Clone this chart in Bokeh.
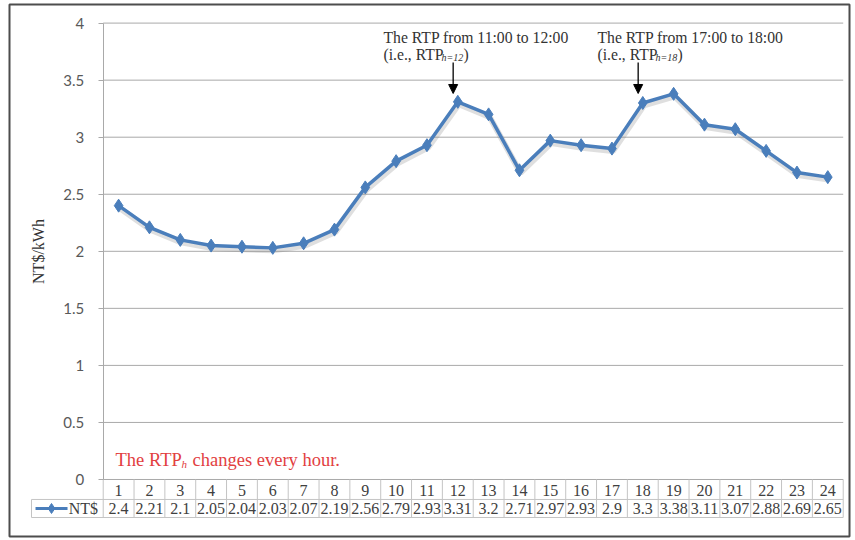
import numpy as np
from bokeh.plotting import figure
from bokeh.models import (Range1d, LinearAxis, FixedTicker, CustomJSTickFormatter,
                          ColumnDataSource, Arrow, NormalHead)
from bokeh.core.properties import value
from bokeh.embed import file_html
from bokeh.resources import INLINE

# Hourly real-time price (NT$/kWh)
hours = list(range(1, 25))
rtp = [2.4, 2.21, 2.1, 2.05, 2.04, 2.03, 2.07, 2.19, 2.56, 2.79, 2.93, 3.31,
       3.2, 2.71, 2.97, 2.93, 2.9, 3.3, 3.38, 3.11, 3.07, 2.88, 2.69, 2.65]
y_ticks = [0, 0.5, 1, 1.5, 2, 2.5, 3, 3.5, 4]
series_name = "NT$"
callout_hours = [12, 18]
callout_titles = ["The RTP from 11:00 to 12:00", "The RTP from 17:00 to 18:00"]
callout_subs = ["h=12", "h=18"]
callout_text_shift = [2.41, 1.47]   # how far left of the arrow each call-out starts

BLUE = "#4a7ebb"
GRID = "#a9a9a9"
TABLE = "#c4c4c4"
INK = "#333333"
SERIF = "Liberation Serif"

# table row layout (below the zero line, in value units)
row1_bottom = -0.175
row2_bottom = -0.333
legend_left = -1.825

p = figure(width=855, height=540,
           x_range=Range1d(-2.539, 24.704), y_range=Range1d(-0.4996, 4.163),
           x_axis_type=None, y_axis_type=None,
           output_backend="svg", toolbar_location=None,
           min_border_left=9, min_border_right=6, min_border_top=4, min_border_bottom=4)
p.outline_line_color = "#4d4d4d"
p.outline_line_width = 2
p.background_fill_color = "white"
p.border_fill_color = "white"

# value axis sitting at the left edge of the category columns
yaxis = LinearAxis(fixed_location=0.5, bounds=(0, 4),
                   ticker=FixedTicker(ticks=y_ticks),
                   formatter=CustomJSTickFormatter(code="return String(tick);"),
                   axis_label="NT$/kWh")
yaxis.axis_line_color = GRID
yaxis.major_tick_line_color = GRID
yaxis.major_tick_out = 5
yaxis.major_tick_in = 0
yaxis.minor_tick_line_color = None
yaxis.major_label_text_font = "Lato"
yaxis.major_label_text_font_size = "15px"
yaxis.major_label_text_color = "#595959"
yaxis.major_label_standoff = 14
yaxis.axis_label_text_font = SERIF
yaxis.axis_label_text_font_style = "normal"
yaxis.axis_label_text_font_size = "16px"
yaxis.axis_label_text_color = INK
yaxis.axis_label_standoff = 14
p.add_layout(yaxis, "left")

# horizontal gridlines
p.segment(x0=0.5, x1=24.5, y0=y_ticks, y1=y_ticks, line_color=GRID, line_width=1)

# data table grid
col_edges = [h - 0.5 for h in hours] + [hours[-1] + 0.5]
p.segment(x0=col_edges, x1=col_edges, y0=0, y1=row2_bottom, line_color=TABLE, line_width=1)
p.segment(x0=[legend_left, legend_left, legend_left],
          x1=[24.5, 24.5, legend_left],
          y0=[row1_bottom, row2_bottom, row1_bottom],
          y1=[row1_bottom, row2_bottom, row2_bottom],
          line_color=TABLE, line_width=1)

table_src = ColumnDataSource(dict(
    x=hours,
    hdr=[str(h) for h in hours],
    val=[f"{v:g}" for v in rtp],
))
p.text(x="x", y=row1_bottom / 2, y_offset=1, text="hdr", source=table_src,
       text_font=value(SERIF), text_font_size="16px", text_color="#404040",
       text_align="center", text_baseline="middle")
p.text(x="x", y=(row1_bottom + row2_bottom) / 2, text="val", source=table_src,
       text_font=value(SERIF), text_font_size="16px", text_color="#404040",
       text_align="center", text_baseline="middle")

# legend key in the table's first cell
row2_mid = (row1_bottom + row2_bottom) / 2
p.line(x=[-1.695, -0.657], y=[row2_mid, row2_mid], line_color=BLUE, line_width=3)
p.scatter(x=[-1.176], y=[row2_mid], marker="diamond", size=10,
          fill_color=BLUE, line_color=BLUE)
p.text(x=[-0.62], y=[row2_mid], text=[series_name], text_font=value(SERIF),
       text_font_size="16px", text_color="#404040", text_align="left",
       text_baseline="middle")

# price series with a soft drop shadow
shadow_y = list(np.array(rtp) - 2.5 / 114.1)
shadow_x = list(np.array(hours) + 1.0 / 30.83)
p.line(x=shadow_x, y=shadow_y, line_color="#808080", line_alpha=0.25, line_width=6)
p.line(x=hours, y=rtp, line_color=BLUE, line_width=3.5)
p.scatter(x=hours, y=rtp, marker="diamond", size=13, fill_color=BLUE, line_color=BLUE)

# call-outs for the two highlighted hours
for h, title, sub, shift in zip(callout_hours, callout_titles, callout_subs, callout_text_shift):
    ax = h - 0.15
    p.add_layout(Arrow(end=NormalHead(size=9, fill_color="black", line_color="black"),
                       x_start=ax, y_start=3.655, x_end=ax, y_end=3.383,
                       line_color="black", line_width=1.3))
    tx = h - shift
    p.text(x=[tx], y=[3.874], text=[title], text_font=value(SERIF),
           text_font_size="15.7px", text_color=INK, text_baseline="alphabetic")
    p.text(x=[tx], y=[3.874], y_offset=17, text=["(i.e., RTP"], text_font=value(SERIF),
           text_font_size="15.7px", text_color=INK, text_baseline="alphabetic")
    p.text(x=[tx], y=[3.874], x_offset=58, y_offset=20, text=[sub], text_font=value(SERIF),
           text_font_size="10px", text_font_style="italic", text_color=INK,
           text_baseline="alphabetic")
    p.text(x=[tx], y=[3.874], x_offset=80, y_offset=17, text=[")"], text_font=value(SERIF),
           text_font_size="15.7px", text_color=INK, text_baseline="alphabetic")

# note in the lower-left corner of the plot
RED = "#e2403f"
p.text(x=[0.9], y=[0.175], text=["The RTP"], text_font=value(SERIF),
       text_font_size="18.5px", text_color=RED, text_baseline="alphabetic")
p.text(x=[0.9], y=[0.175], x_offset=66, y_offset=4, text=["h"], text_font=value(SERIF),
       text_font_size="11px", text_font_style="italic", text_color=RED,
       text_baseline="alphabetic")
p.text(x=[0.9], y=[0.175], x_offset=77, text=["changes every hour."], text_font=value(SERIF),
       text_font_size="18.5px", text_color=RED, text_baseline="alphabetic")

open("out.html", "w").write(file_html(p, INLINE))
